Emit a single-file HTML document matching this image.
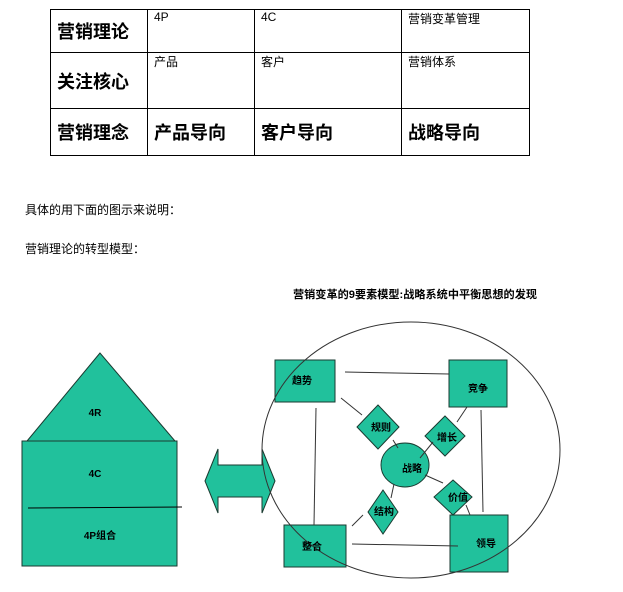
<!DOCTYPE html>
<html><head><meta charset="utf-8"><style>
body{margin:0;background:#fff;width:623px;height:592px;position:relative;overflow:hidden;font-family:"Liberation Sans","Noto Sans CJK SC",sans-serif;}
table{position:absolute;left:50px;top:9px;border-collapse:collapse;}
td{border:1px solid #000;vertical-align:top;padding:0 6px;font-size:12px;}
.h{font-size:18px;font-weight:bold;vertical-align:middle;}
.b{font-size:18px;vertical-align:middle;font-weight:bold;}
.t{position:absolute;left:25px;font-size:12px;}
</style></head><body>
<table>
<tr style="height:43px"><td class="h" style="width:84px">营销理论</td><td style="width:94px">4P</td><td style="width:134px">4C</td><td style="width:115px">营销变革管理</td></tr>
<tr style="height:56px"><td class="h">关注核心</td><td>产品</td><td>客户</td><td>营销体系</td></tr>
<tr style="height:47px"><td class="h">营销理念</td><td class="b">产品导向</td><td class="b">客户导向</td><td class="b">战略导向</td></tr>
</table>
<div class="t" style="top:201px">具体的用下面的图示来说明：</div>
<div class="t" style="top:240px">营销理论的转型模型：</div>
<svg width="623" height="592" style="position:absolute;left:0;top:0" font-family="Liberation Sans, Noto Sans CJK SC, sans-serif" font-weight="bold" font-size="10">
<g fill="#21c19c" stroke="#1a3a30" stroke-width="1">
<polygon points="100,353 27,441 175,441"/>
<rect x="22" y="441" width="155" height="125"/>
<polygon points="205,481 218,449 218,465 262,465 262,449 275,481 262,513 262,497 218,497 218,513"/>
<rect x="275" y="360" width="60" height="42"/>
<rect x="449" y="360" width="58" height="47"/>
<rect x="284" y="525" width="62" height="42"/>
<rect x="450" y="515" width="58" height="57"/>
<ellipse cx="405" cy="465" rx="24" ry="22"/>
<polygon points="378,405 399,427 378,449 357,427"/>
<polygon points="445,416 465,436 445,456 425,436"/>
<polygon points="383,490 398,512 383,534 368,512"/>
<polygon points="453,480 472,497 453,515 434,497"/>
</g>
<line x1="28" y1="508" x2="182" y2="507" stroke="#000"/>
<ellipse cx="411" cy="450" rx="149" ry="128" fill="none" stroke="#333"/>
<g stroke="#333" stroke-width="1">
<line x1="345" y1="372" x2="449" y2="374"/>
<line x1="316" y1="408" x2="314" y2="525"/>
<line x1="481" y1="410" x2="483" y2="512"/>
<line x1="352" y1="544" x2="458" y2="546"/>
<line x1="341" y1="398" x2="362" y2="415"/>
<line x1="393" y1="440" x2="398" y2="448"/>
<line x1="467" y1="407" x2="457" y2="422"/>
<line x1="433" y1="442" x2="420" y2="458"/>
<line x1="425" y1="475" x2="443" y2="483"/>
<line x1="466" y1="505" x2="470" y2="515"/>
<line x1="394" y1="484" x2="391" y2="498"/>
<line x1="352" y1="526" x2="363" y2="515"/>
</g>
<g fill="#000" text-anchor="middle">
<text x="415" y="298" font-size="11" textLength="244" lengthAdjust="spacingAndGlyphs">营销变革的9要素模型:战略系统中平衡思想的发现</text>
<text x="95" y="416">4R</text>
<text x="95" y="477">4C</text>
<text x="100" y="539">4P组合</text>
<text x="302" y="384">趋势</text>
<text x="478" y="392">竞争</text>
<text x="312" y="550">整合</text>
<text x="486" y="547">领导</text>
<text x="412" y="472">战略</text>
<text x="381" y="431">规则</text>
<text x="447" y="441">增长</text>
<text x="384" y="515">结构</text>
<text x="458" y="501">价值</text>
</g>
</svg>
</body></html>
